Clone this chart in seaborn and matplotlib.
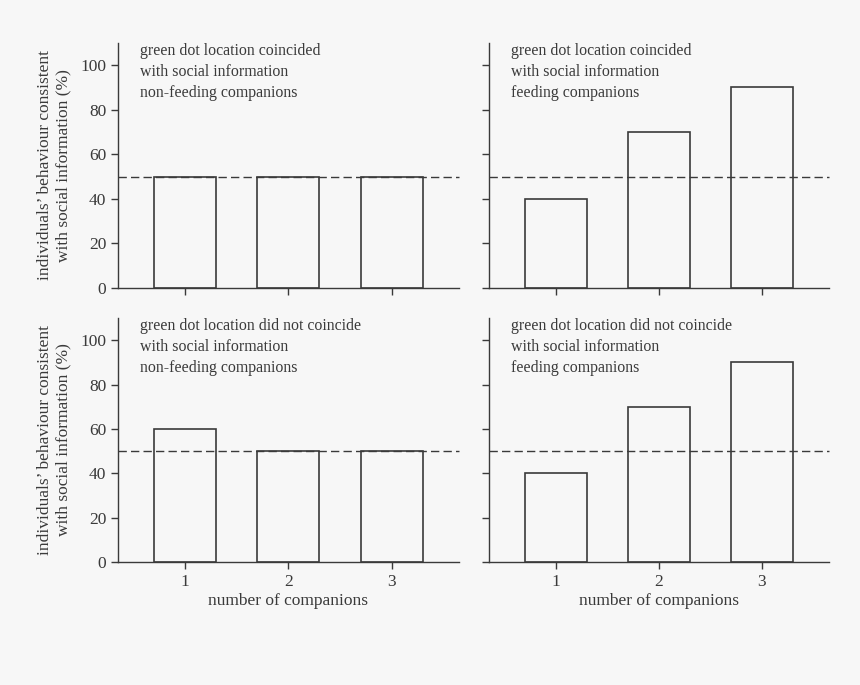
import matplotlib
matplotlib.use("Agg")
import pandas as pd
import matplotlib.pyplot as plt
import seaborn as sns

sns.set_theme(style="ticks")
plt.rcParams['font.family'] = ['Liberation Serif', 'DejaVu Serif']

# data
companions = ["1", "2", "3"]
coincided_nonfeeding = [50, 50, 50]
coincided_feeding = [40, 70, 90]
notcoincided_nonfeeding = [60, 50, 50]
notcoincided_feeding = [40, 70, 90]

panel_titles = [
    "green dot location coincided\nwith social information\nnon-feeding companions",
    "green dot location coincided\nwith social information\nfeeding companions",
    "green dot location did not coincide\nwith social information\nnon-feeding companions",
    "green dot location did not coincide\nwith social information\nfeeding companions",
]
panel_values = [coincided_nonfeeding, coincided_feeding,
                notcoincided_nonfeeding, notcoincided_feeding]
chance_level = 50
y_ticks = [0, 20, 40, 60, 80, 100]

ink = "#3a3a3a"
bg = "#f7f7f7"

fig = plt.figure(figsize=(8.6, 6.85), dpi=100, facecolor=bg)
positions = [
    [0.1372, 0.5796, 0.3965, 0.3577],
    [0.5686, 0.5796, 0.3953, 0.3577],
    [0.1372, 0.1796, 0.3965, 0.3562],
    [0.5686, 0.1796, 0.3953, 0.3562],
]

for i, (pos, title, vals) in enumerate(zip(positions, panel_titles, panel_values)):
    ax = fig.add_axes(pos)
    ax.set_facecolor(bg)
    df = pd.DataFrame({"companions": companions, "pct": vals})
    sns.barplot(data=df, x="companions", y="pct", ax=ax, width=0.6,
                fill=False, color=ink, linewidth=1.2, errorbar=None)
    for p in ax.patches:
        p.set_edgecolor(ink)
        p.set_facecolor("none")
    ax.axhline(chance_level, color=ink, linestyle=(0, (6, 3)), linewidth=1.0,
               clip_on=False)
    ax.set_xlim(-0.65, 2.65)
    ax.set_ylim(0, 110)
    ax.set_yticks(y_ticks)
    sns.despine(ax=ax)
    for s in ["left", "bottom"]:
        ax.spines[s].set_color(ink)
        ax.spines[s].set_linewidth(1.0)
    ax.tick_params(colors=ink, labelcolor=ink, labelsize=12.5, length=5,
                   width=1.0, direction="out")
    ax.text(0.065, 1.0, title, transform=ax.transAxes, ha="left", va="top",
            fontsize=11.4, color=ink, linespacing=1.42)
    if i % 2 == 0:
        ax.set_ylabel("individuals\u2019 behaviour consistent\nwith social information (%)",
                      fontsize=12.5, color=ink, labelpad=6)
    else:
        ax.set_ylabel("")
        ax.set_yticklabels([])
    if i >= 2:
        ax.set_xlabel("number of companions", fontsize=12.5, color=ink, labelpad=2)
    else:
        ax.set_xlabel("")
        ax.set_xticklabels([])

fig.savefig("out.png", dpi=100, facecolor=bg)
